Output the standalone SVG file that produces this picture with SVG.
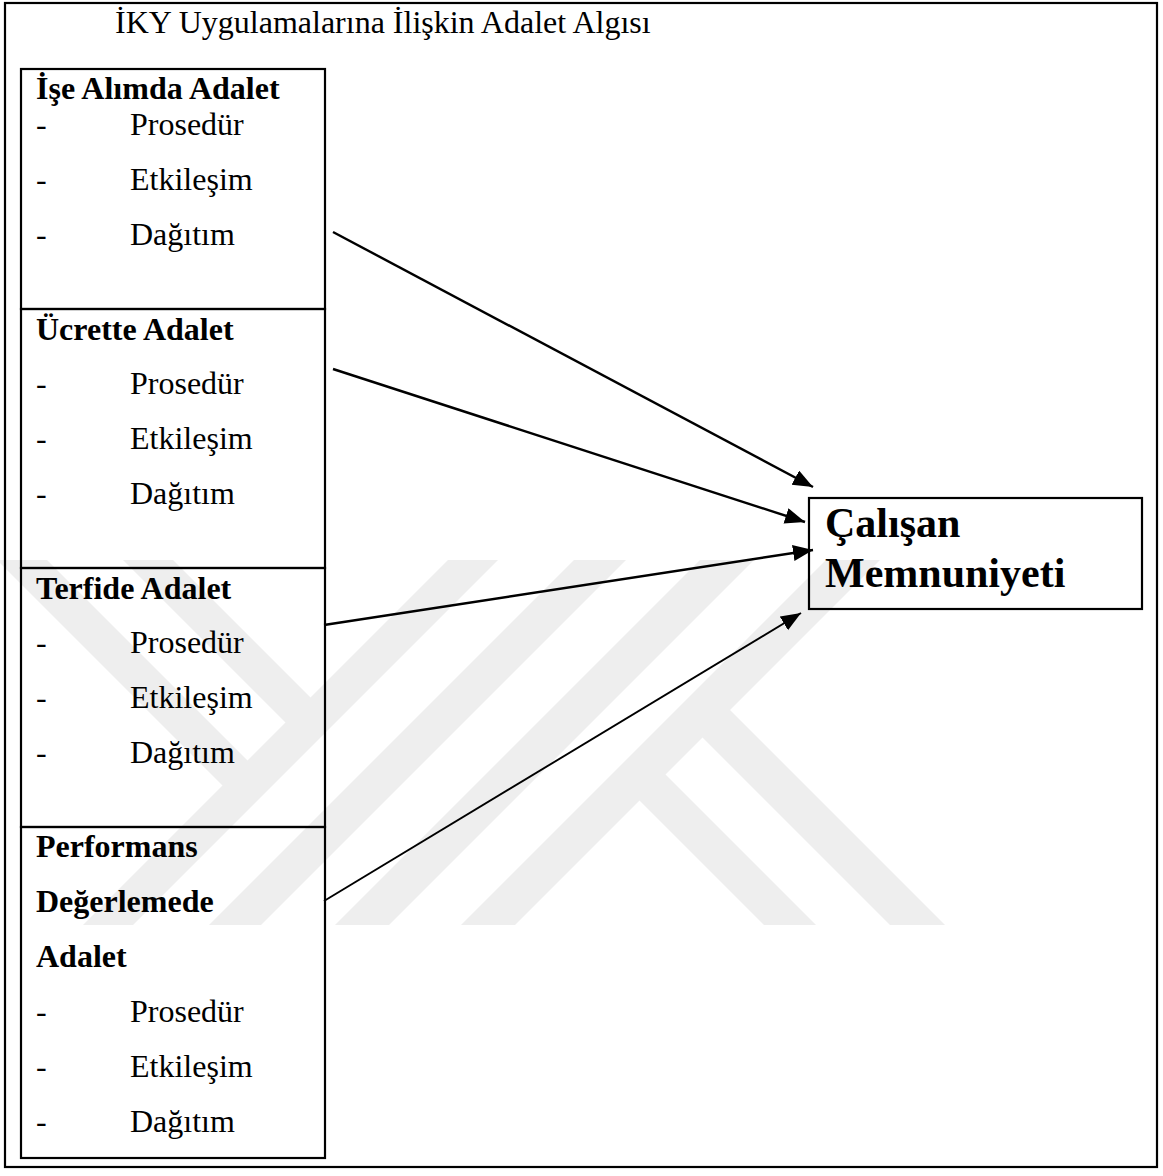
<svg xmlns="http://www.w3.org/2000/svg" width="1163" height="1176" viewBox="0 0 1163 1176">
  <style>
    .t { font-family: "Liberation Serif", "Times New Roman", serif; font-size: 32px; fill: #000; }
    .h { font-family: "Liberation Serif", "Times New Roman", serif; font-size: 32px; font-weight: bold; fill: #000; }
    .big { font-family: "Liberation Serif", "Times New Roman", serif; font-size: 42px; font-weight: bold; fill: #000; }
    .box { fill: none; stroke: #000; stroke-width: 2.2; }
    .wm { fill: #eeeeee; }
    .arrow { stroke: #000; stroke-width: 2.4; fill: none; marker-end: url(#ah); }
  </style>
  <defs>
    <marker id="ah" markerUnits="userSpaceOnUse" markerWidth="22" markerHeight="18" refX="20" refY="8" orient="auto">
      <path d="M0,0 L20,8 L0,16 Z" fill="#000"/>
    </marker>
  </defs>
  <rect width="1163" height="1176" fill="#fff"/>

  <!-- watermark -->
  <g id="watermark">
    <polygon class="wm" points="448,560 498,560 133,925 83,925"/>
    <polygon class="wm" points="574,560 626,560 261,925 209,925"/>
    <polygon class="wm" points="700,560 754,560 389,925 335,925"/>
    <polygon class="wm" points="826,560 880,560 515,925 461,925"/>
    <polygon class="wm" points="123,560 173,560 321.5,708.5 296.5,733.5"/>
    <polygon class="wm" points="-3,560 47,560 258.5,771.5 233.5,796.5"/>
    <polygon class="wm" points="716.5,696.5 945,925 890,925 689,724"/>
    <polygon class="wm" points="652,761 816,925 764,925 626,787"/>
  </g>

  <!-- outer frame -->
  <rect id="frame" class="box" x="5" y="3" width="1152" height="1164"/>
  <text id="title" class="t" x="115" y="33">İKY Uygulamalarına İlişkin Adalet Algısı</text>

  <g id="node-ise-alim">
    <rect class="box" x="21" y="69" width="304" height="240"/>
    <text class="h" x="36" y="99">İşe Alımda Adalet</text>
    <text class="t" x="36" y="135">-</text><text class="t" x="130" y="135">Prosedür</text>
    <text class="t" x="36" y="190">-</text><text class="t" x="130" y="190">Etkileşim</text>
    <text class="t" x="36" y="245">-</text><text class="t" x="130" y="245">Dağıtım</text>
  </g>

  <g id="node-ucret">
    <rect class="box" x="21" y="309" width="304" height="259"/>
    <text class="h" x="36" y="340">Ücrette Adalet</text>
    <text class="t" x="36" y="394">-</text><text class="t" x="130" y="394">Prosedür</text>
    <text class="t" x="36" y="449">-</text><text class="t" x="130" y="449">Etkileşim</text>
    <text class="t" x="36" y="504">-</text><text class="t" x="130" y="504">Dağıtım</text>
  </g>

  <g id="node-terfi">
    <rect class="box" x="21" y="568" width="304" height="259"/>
    <text class="h" x="36" y="599">Terfide Adalet</text>
    <text class="t" x="36" y="653">-</text><text class="t" x="130" y="653">Prosedür</text>
    <text class="t" x="36" y="708">-</text><text class="t" x="130" y="708">Etkileşim</text>
    <text class="t" x="36" y="763">-</text><text class="t" x="130" y="763">Dağıtım</text>
  </g>

  <g id="node-performans">
    <rect class="box" x="21" y="827" width="304" height="331"/>
    <text class="h" x="36" y="857">Performans</text>
    <text class="h" x="36" y="912">Değerlemede</text>
    <text class="h" x="36" y="967">Adalet</text>
    <text class="t" x="36" y="1022">-</text><text class="t" x="130" y="1022">Prosedür</text>
    <text class="t" x="36" y="1077">-</text><text class="t" x="130" y="1077">Etkileşim</text>
    <text class="t" x="36" y="1132">-</text><text class="t" x="130" y="1132">Dağıtım</text>
  </g>

  <g id="node-memnuniyet">
    <rect class="box" x="809" y="498" width="333" height="111"/>
    <text class="big" x="825" y="537">Çalışan</text>
    <text class="big" x="825" y="587">Memnuniyeti</text>
  </g>

  <g id="connectors">
    <line class="arrow" x1="333" y1="232" x2="813" y2="487"/>
    <line class="arrow" x1="333" y1="369" x2="805" y2="522"/>
    <line class="arrow" x1="324" y1="625" x2="813" y2="550"/>
    <line class="arrow" x1="324" y1="901" x2="801" y2="613" style="stroke-width:1.9"/>
  </g>
</svg>
